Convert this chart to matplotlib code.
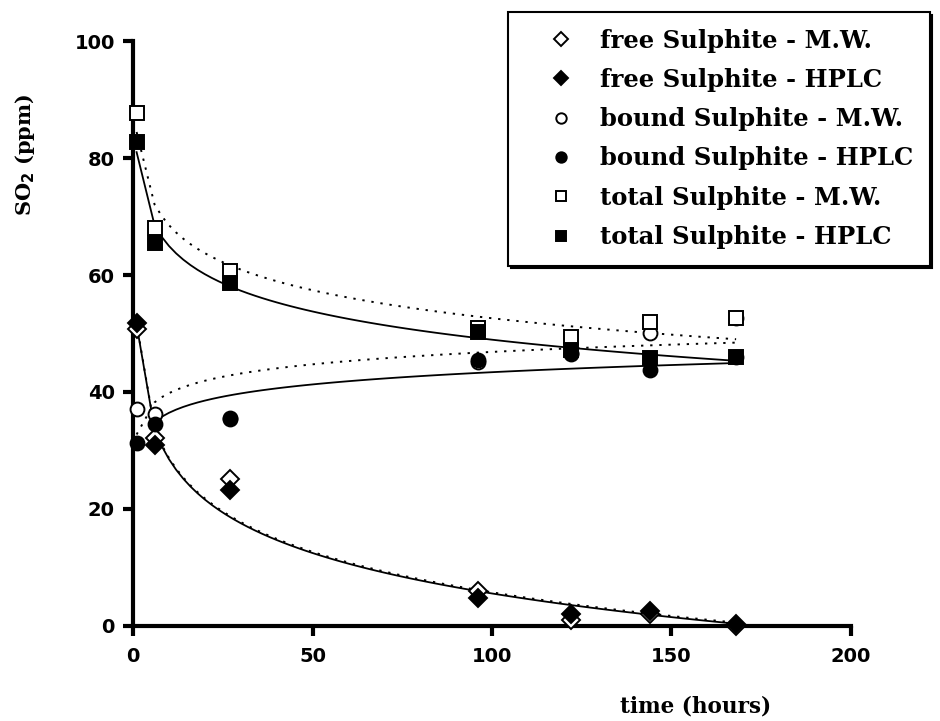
import numpy as np
import matplotlib
matplotlib.use("Agg")
import matplotlib.pyplot as plt

# sampling times (hours)
t = np.array([1, 6, 27, 96, 122, 144, 168])

# SO2 (ppm)
free_mw = np.array([50.8, 32.1, 25.1, 6.0, 1.0, 2.0, 0.0])
free_hplc = np.array([51.8, 31.0, 23.2, 4.8, 2.0, 2.5, 0.3])
bound_mw = np.array([37.1, 36.2, 35.6, 45.1, 46.5, 50.0, 52.6])
bound_hplc = np.array([31.2, 34.5, 35.4, 45.5, 46.7, 43.8, 46.0])
total_mw = np.array([87.7, 68.0, 60.7, 51.0, 49.4, 52.0, 52.6])
total_hplc = np.array([82.7, 65.5, 58.6, 50.3, 47.2, 45.8, 46.0])

labels = ["free Sulphite - M.W.", "free Sulphite - HPLC",
          "bound Sulphite - M.W.", "bound Sulphite - HPLC",
          "total Sulphite - M.W.", "total Sulphite - HPLC"]


def logfit(y):
    # y = a + b ln(t)
    b, a = np.polyfit(np.log(t), y, 1)
    return lambda x: a + b * np.log(x)


tt = np.concatenate([[1.0], np.arange(6, 168.5, 2.0)])
f_free_h = logfit(free_hplc)
f_free_m = logfit(free_mw)
f_tot_h = logfit(total_hplc)
f_tot_m = logfit(total_mw)
free_h_c = np.clip(f_free_h(tt), 0, None)
free_m_c = np.clip(f_free_m(tt), 0, None)
tot_h_c = f_tot_h(tt)
tot_m_c = f_tot_m(tt)
bnd_h_c = tot_h_c - free_h_c
bnd_m_c = tot_m_c - free_m_c

fig = plt.figure(figsize=(9.4, 7.21), dpi=100)
ax = fig.add_axes([0.1415, 0.1318, 0.7638, 0.8113])

dot = (0, (1.2, 3.5))
ax.plot(tt, tot_m_c, color="k", lw=1.4, ls=dot, zorder=2)
ax.plot(tt, bnd_m_c, color="k", lw=1.4, ls=dot, zorder=2)
ax.plot(tt, free_m_c, color="k", lw=1.4, ls=dot, zorder=2)
ax.plot(tt, tot_h_c, color="k", lw=1.3, zorder=2)
ax.plot(tt[1:], bnd_h_c[1:], color="k", lw=1.3, zorder=2)
ax.plot(tt, free_h_c, color="k", lw=1.3, zorder=2)

series = [free_mw, free_hplc, bound_mw, bound_hplc, total_mw, total_hplc]
markers = ["D", "D", "o", "o", "s", "s"]
sizes = [9, 9, 10, 10, 10, 10]
for i, y in enumerate(series):
    fc = "white" if i % 2 == 0 else "black"
    ax.plot(t, y, ls="none", marker=markers[i], ms=sizes[i], mfc=fc, mec="k",
            mew=1.4, label=labels[i], zorder=3 + i, clip_on=False)

ax.set_xlim(0, 200)
ax.set_ylim(0, 100)
ax.set_xticks([0, 50, 100, 150, 200])
ax.set_yticks([0, 20, 40, 60, 80, 100])
for s in ["top", "right"]:
    ax.spines[s].set_visible(False)
for s in ["left", "bottom"]:
    ax.spines[s].set_linewidth(3)
ax.tick_params(direction="out", length=7, width=3, labelsize=14)
ax.tick_params(axis="x", pad=8)
ax.tick_params(axis="y", pad=6)
for lab in ax.get_xticklabels() + ax.get_yticklabels():
    lab.set_fontweight("bold")

fig.text(25 / 940, 1 - 155 / 721, r"SO$_\mathbf{2}$ (ppm)", rotation=90,
         ha="center", va="center", fontsize=15, fontweight="bold",
         family="DejaVu Serif")
fig.text(696 / 940, 1 - 707 / 721, "time (hours)", ha="center", va="center",
         fontsize=15.5, fontweight="bold", family="DejaVu Serif")

leg = ax.legend(loc="upper left", bbox_to_anchor=(508 / 940, 1 - 12 / 721),
                bbox_transform=fig.transFigure, frameon=True, fancybox=False,
                shadow={"color": "k", "alpha": 1}, framealpha=1,
                edgecolor="k", markerscale=0.75, borderpad=0.68,
                borderaxespad=0, handlelength=3.0, handletextpad=0.1,
                labelspacing=0.63,
                prop={"family": "DejaVu Serif", "weight": "bold", "size": 17.5})
leg.get_frame().set_linewidth(1.5)

fig.savefig("out.png", dpi=100)
